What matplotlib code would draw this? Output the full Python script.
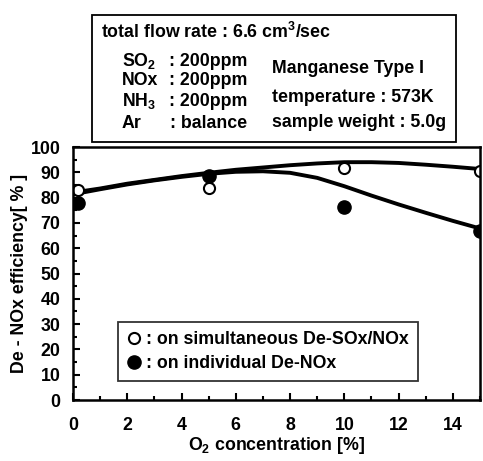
import matplotlib
matplotlib.use("Agg")
import matplotlib.pyplot as plt
from matplotlib.patches import Rectangle
from matplotlib.ticker import MultipleLocator

plt.rcParams['font.family'] = ['Liberation Sans', 'DejaVu Sans']
plt.rcParams['font.weight'] = 'bold'
plt.rcParams['mathtext.fontset'] = 'custom'
plt.rcParams['mathtext.rm'] = 'Liberation Sans:bold'
plt.rcParams['mathtext.it'] = 'Liberation Sans:bold'
plt.rcParams['mathtext.bf'] = 'Liberation Sans:bold'
plt.rcParams['mathtext.default'] = 'rm'

# measured points
o2_points = [0.2, 5, 10, 15]
simultaneous = [83.0, 83.7, 91.8, 90.5]
individual = [78.0, 88.5, 76.4, 66.8]

# hand-drawn trend curves
curve_x = [0, 1, 2, 3, 4, 5, 6, 7, 8, 9, 10, 11, 12, 13, 14, 15]
curve_simul = [82.0, 83.6, 85.5, 87.0, 88.5, 89.8, 91.0, 91.9, 92.8, 93.5, 94.0, 94.0, 93.7, 93.0, 92.2, 91.3]
curve_indiv = [81.3, 83.3, 85.2, 86.8, 88.2, 89.4, 90.2, 90.4, 89.8, 87.8, 84.5, 80.8, 77.3, 74.0, 70.8, 67.8]

W, H = 483, 461
FS = 12.8
fig = plt.figure(figsize=(W / 100, H / 100), dpi=100)
ax = fig.add_axes([73 / W, 1 - 400 / H, (480 - 73) / W, (400 - 147) / H])

ax.plot(curve_x, curve_simul, color='black', lw=2.8, solid_capstyle='round')
ax.plot(curve_x, curve_indiv, color='black', lw=2.8, solid_capstyle='round')
h1, = ax.plot(o2_points, simultaneous, 'o', ms=8, mfc='white', mec='black', mew=1.5, ls='none')
h2, = ax.plot(o2_points, individual, 'o', ms=9.5, mfc='black', mec='black', ls='none')

ax.set_xlim(0, 15)
ax.set_ylim(0, 100)
ax.xaxis.set_major_locator(MultipleLocator(2))
ax.xaxis.set_minor_locator(MultipleLocator(1))
ax.yaxis.set_major_locator(MultipleLocator(10))
ax.yaxis.set_minor_locator(MultipleLocator(5))
ax.tick_params(which='both', direction='in', width=1.5, labelsize=FS)
ax.tick_params(which='major', length=5)
ax.tick_params(which='minor', length=3)
ax.tick_params(axis='x', which='major', pad=12)
ax.tick_params(axis='y', which='major', pad=9)
for lab in ax.get_xticklabels() + ax.get_yticklabels():
    lab.set_fontweight('bold')
for s in ax.spines.values():
    s.set_linewidth(1.8)

ax.set_xlabel('O$_2$ concentration [%]', fontsize=FS, fontweight='bold', labelpad=1)
ax.set_ylabel('De - NOx efficiency[ % ]', fontsize=FS, fontweight='bold', labelpad=2)

leg = ax.legend([h1, h2], [': on simultaneous De-SOx/NOx', ': on individual De-NOx'],
                loc='upper left', bbox_to_anchor=(118 / W, 1 - 322 / H),
                bbox_transform=fig.transFigure, borderaxespad=0, frameon=True,
                fancybox=False, edgecolor='black', handlelength=0.8, handletextpad=0.3,
                borderpad=0.5, labelspacing=0.4, prop={'weight': 'bold', 'size': FS})
leg.get_frame().set_linewidth(1.3)

# info box
fig.patches.append(Rectangle((92 / W, 1 - 142 / H), (456 - 92) / W, (142 - 15) / H,
                             transform=fig.transFigure, fill=False, ec='black', lw=1.3))

def ftext(x, y, s, ha='left'):
    fig.text(x / W, 1 - y / H, s, ha=ha, va='baseline', fontsize=FS, fontweight='bold')

ftext(101, 38, 'total flow rate : 6.6 cm$^3$/sec')
left_labels = ['SO$_2$', 'NOx', 'NH$_3$', 'Ar']
left_values = [': 200ppm', ': 200ppm', ': 200ppm', ': balance']
left_y = [66, 85, 106, 128]
for lab, val, yy in zip(left_labels, left_values, left_y):
    ftext(122, yy, lab)
    ftext(247, yy, val, ha='right')
ftext(272, 73, 'Manganese Type I')
ftext(272, 102, 'temperature : 573K')
ftext(272, 127, 'sample weight : 5.0g')

fig.savefig('out.png', dpi=100)
